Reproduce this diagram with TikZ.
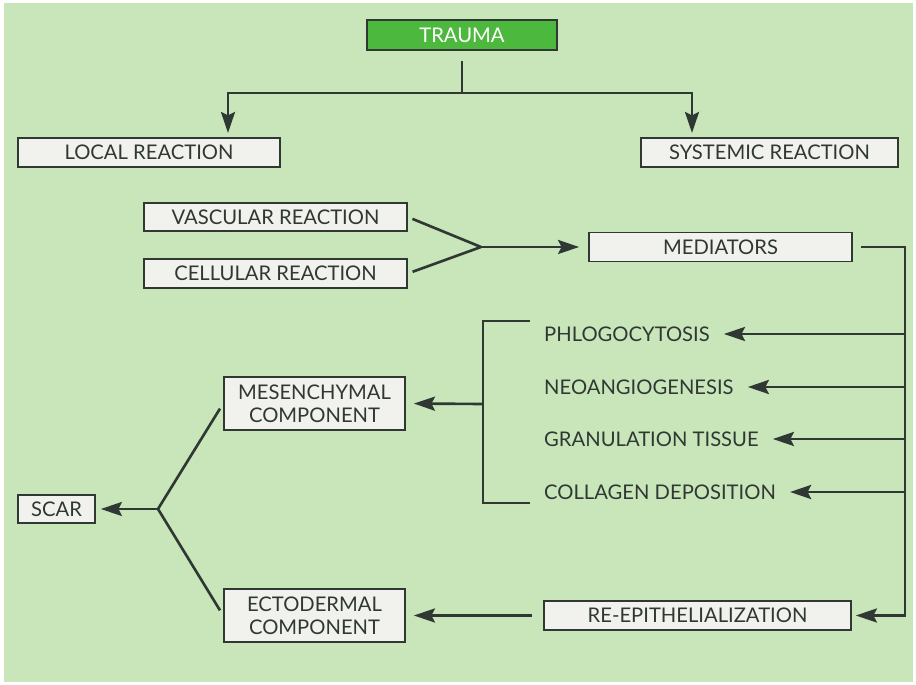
\documentclass[tikz,border=0pt]{standalone}
\usepackage{fontspec}
\setmainfont{Lato}
\usetikzlibrary{arrows.meta}
\definecolor{bggreen}{RGB}{201,230,186}
\definecolor{boxgreen}{RGB}{77,184,62}
\definecolor{boxfill}{RGB}{241,242,238}
\definecolor{inkgrey}{RGB}{48,56,52}

\begin{document}
\begin{tikzpicture}[x=0.02cm,y=-0.02cm,
  box/.style={draw=inkgrey,line width=1pt,fill=boxfill,text=inkgrey,inner sep=0pt,
    minimum height=0.58cm,font=\fontsize{11.5}{13}\selectfont},
  label/.style={text=inkgrey,font=\fontsize{11.5}{13}\selectfont},
  line/.style={draw=inkgrey,line width=1.5pt},
  arr/.style={line,-{Stealth[length=12pt,width=8pt,inset=2pt]}}]
\fill[white] (0,0) rectangle (916,685);
\fill[bggreen] (4,3) rectangle (913,682);
% boxes
\node[box,fill=boxgreen,text=white,minimum width=3.8cm,minimum height=0.6cm] (trauma) at (462,35) {TRAUMA};
\node[box,minimum width=5.24cm] (local) at (149,152.5) {LOCAL REACTION};
\node[box,minimum width=5.14cm] (systemic) at (769.5,152.5) {SYSTEMIC REACTION};
\node[box,minimum width=5.26cm,minimum height=0.56cm] (vascular) at (275.5,217) {VASCULAR REACTION};
\node[box,minimum width=5.26cm] (cellular) at (275.5,273.5) {CELLULAR REACTION};
\node[box,minimum width=5.26cm] (mediators) at (720.5,247) {MEDIATORS};
\node[label,anchor=west] (phlog) at (538,334) {PHLOGOCYTOSIS};
\node[label,anchor=west] (neo) at (538,387) {NEOANGIOGENESIS};
\node[label,anchor=west] (gran) at (538,439) {GRANULATION TISSUE};
\node[label,anchor=west] (coll) at (538,492) {COLLAGEN DEPOSITION};
\node[box,minimum width=3.62cm,minimum height=1.06cm,align=center] (mesen) at (314.5,403.5) {MESENCHYMAL\\COMPONENT};
\node[box,minimum width=3.62cm,minimum height=1.06cm,align=center] (ecto) at (314.5,615.5) {ECTODERMAL\\COMPONENT};
\node[box,minimum width=6.14cm] (reepi) at (697.5,615.5) {RE-EPITHELIALIZATION};
\node[box,minimum width=1.54cm,minimum height=0.56cm] (scar) at (56.5,509) {SCAR};
% joints
\coordinate (split) at (462,93);
\coordinate (ltip) at (228,133);
\coordinate (rtip) at (692,133);
\coordinate (vjoin) at (481,247);
\coordinate (rail) at (905,247);
\coordinate (btop) at (530,321);
\coordinate (bbot) at (530,503);
\coordinate (bmid) at (483,404);
\coordinate (sjoin) at (158,509);
% connectors
\draw[line,shorten <=0.2cm] (trauma) -- (split);
\draw[arr] (split) -| (ltip);
\draw[arr] (split) -| (rtip);
\draw[line,shorten <=0.1cm] (vascular.east) -- (vjoin);
\draw[line,shorten <=0.1cm] (cellular.east) -- (vjoin);
\draw[arr,shorten >=0.18cm] (vjoin) -- (mediators.west);
\draw[arr,shorten <=0.16cm,shorten >=0.08cm] (mediators.east) -- (rail) |- (reepi.east);
\foreach \n in {phlog,neo,gran,coll}
  \draw[arr,shorten >=0.16cm] (rail |- \n.east) -- (\n.east);
\draw[line] (btop) -- ++(-47,0) |- (bbot);
\draw[arr,shorten >=0.16cm] (bmid) -- (mesen.east);
\draw[arr,shorten <=0.22cm,shorten >=0.16cm] (reepi.west) -- (ecto.east);
\draw[line,shorten <=0.12cm] (mesen.west) -- (sjoin);
\draw[line,shorten <=0.12cm] (ecto.west) -- (sjoin);
\draw[arr,shorten >=0.1cm] (sjoin) -- (scar.east);
\end{tikzpicture}
\end{document}
